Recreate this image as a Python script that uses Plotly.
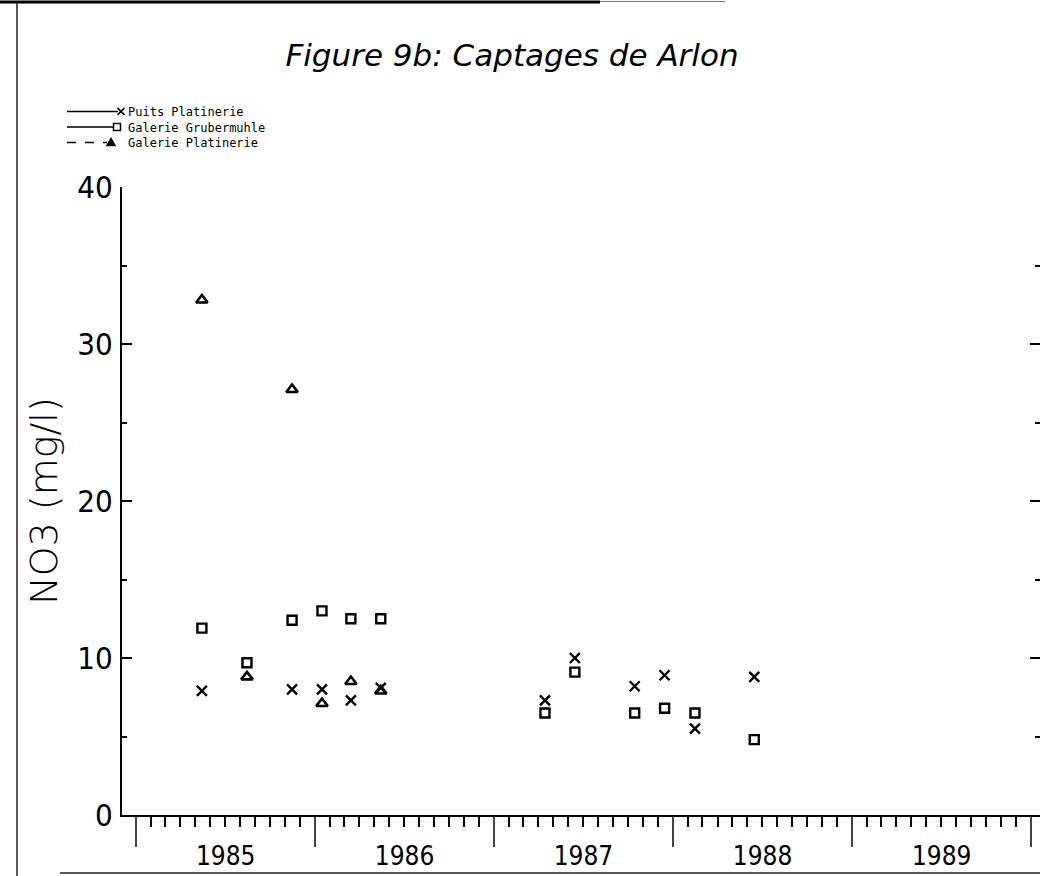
import plotly.graph_objects as go

# ---------------- data ----------------
dates_puits = ["1985-05-15", "1985-11-15", "1986-01-15", "1986-03-15", "1986-05-15",
               "1987-04-15", "1987-06-15", "1987-10-15", "1987-12-15", "1988-02-15", "1988-06-15"]
no3_puits = [7.9, 8.0, 8.0, 7.3, 8.1, 7.3, 10.0, 8.2, 8.9, 5.5, 8.8]

dates_grub = ["1985-05-15", "1985-08-15", "1985-11-15", "1986-01-15", "1986-03-15", "1986-05-15",
              "1987-04-15", "1987-06-15", "1987-10-15", "1987-12-15", "1988-02-15", "1988-06-15"]
no3_grub = [11.9, 9.7, 12.4, 13.0, 12.5, 12.5, 6.5, 9.1, 6.5, 6.8, 6.5, 4.8]

dates_gal = ["1985-05-15", "1985-08-15", "1985-11-15", "1986-01-15", "1986-03-15", "1986-05-15"]
no3_gal = [32.8, 8.8, 27.1, 7.1, 8.5, 7.9]

series_names = ["Puits Platinerie", "Galerie Grubermuhle", "Galerie Platinerie"]
title_text = "Figure 9b: Captages de Arlon"
y_title = "NO3 (mg/l)"

# ---------------- layout geometry ----------------
W, H = 1040, 876
L, R, T, B = 122, 0, 187, 61
PW = W - L - R
PH = H - T - B
PBOT = H - B


def px(x):
    return (x - L) / PW


def py(y):
    return (PBOT - y) / PH


NARROW = "Liberation Sans Narrow, DejaVu Sans Condensed, Roboto Condensed, Liberation Sans, sans-serif"

fig = go.Figure()
fig.add_trace(go.Scatter(x=dates_puits, y=no3_puits, mode="markers", name=series_names[0],
                         marker=dict(symbol="x-thin", size=10, color="black",
                                     line=dict(width=2.4, color="black"))))
fig.add_trace(go.Scatter(x=dates_grub, y=no3_grub, mode="markers", name=series_names[1],
                         marker=dict(symbol="square-open", size=9, color="black",
                                     line=dict(width=2.4, color="black"))))
fig.add_trace(go.Scatter(x=dates_gal, y=no3_gal, mode="markers", name=series_names[2],
                         marker=dict(symbol="triangle-up-open", size=10, color="black",
                                     line=dict(width=2.6, color="black"))))

shapes = []
# scan frame lines
shapes.append(dict(type="line", xref="paper", yref="paper", x0=px(0), x1=px(600), y0=py(2), y1=py(2),
                   line=dict(color="black", width=3)))
shapes.append(dict(type="line", xref="paper", yref="paper", x0=px(600), x1=px(725), y0=py(1.5), y1=py(1.5),
                   line=dict(color="#777", width=1)))
shapes.append(dict(type="line", xref="paper", yref="paper", x0=px(17), x1=px(17), y0=py(3), y1=py(876),
                   line=dict(color="#222", width=1.5)))
shapes.append(dict(type="line", xref="paper", yref="paper", x0=px(60), x1=px(1040), y0=py(873), y1=py(873),
                   line=dict(color="#222", width=1.5)))

# hand-drawn legend (one multi-line text block, samples drawn as shapes)
LEG_SIZE = 12
LEG_STEP = 1.3 * LEG_SIZE
rows = [127 - LEG_STEP, 127, 127 + LEG_STEP]
line_ends = [118, 113, 107]
dashes = ["solid", "solid", "dash"]
for yy, xe, ds in zip(rows, line_ends, dashes):
    shapes.append(dict(type="line", xref="paper", yref="paper", x0=px(67), x1=px(xe), y0=py(yy), y1=py(yy),
                       line=dict(color="black", width=1.5, dash=ds)))
# x glyph
cx, cy, s = 121, rows[0], 3.5
shapes.append(dict(type="line", xref="paper", yref="paper", x0=px(cx - s), x1=px(cx + s),
                   y0=py(cy - s), y1=py(cy + s), line=dict(color="black", width=1.5)))
shapes.append(dict(type="line", xref="paper", yref="paper", x0=px(cx - s), x1=px(cx + s),
                   y0=py(cy + s), y1=py(cy - s), line=dict(color="black", width=1.5)))
# square glyph
cx, cy = 117, rows[1]
shapes.append(dict(type="rect", xref="paper", yref="paper", x0=px(cx - 3.5), x1=px(cx + 3.5),
                   y0=py(cy + 3.5), y1=py(cy - 3.5), line=dict(color="black", width=1.5)))
# triangle glyph
cx, cy = 111, rows[2]
tri = "M {:.5f},{:.5f} L {:.5f},{:.5f} L {:.5f},{:.5f} Z".format(
    px(cx - 4), py(cy + 3), px(cx + 4), py(cy + 3), px(cx), py(cy - 4))
shapes.append(dict(type="path", xref="paper", yref="paper", path=tri,
                   line=dict(color="black", width=1.5), fillcolor="black"))

annotations = [dict(xref="paper", yref="paper", x=px(127), y=py(127), xanchor="left", yanchor="middle",
                    align="left", text="<br>".join(series_names), showarrow=False, borderpad=0,
                    font=dict(family="DejaVu Sans Mono, Liberation Mono, monospace", size=LEG_SIZE,
                              color="black"))]

fig.update_layout(
    width=W, height=H,
    margin=dict(l=L, r=R, t=T, b=B, pad=0),
    paper_bgcolor="white", plot_bgcolor="white",
    showlegend=False,
    title=dict(text=title_text, x=512 / W, xref="container", xanchor="center",
               y=1 - 55 / H, yref="container", yanchor="middle",
               font=dict(family="DejaVu Sans", size=31, style="italic", weight=200, color="black")),
    shapes=shapes,
    annotations=annotations,
    xaxis=dict(type="date", range=["1984-12-03", "1990-01-19"],
               tick0="1985-01-01", dtick="M12", ticklabelmode="period", tickformat="%Y",
               ticks="outside", ticklen=30, tickwidth=1.5, tickcolor="#444",
               showline=True, linecolor="black", linewidth=2,
               showgrid=False, zeroline=False, automargin=False,
               ticklabelstandoff=-13,
               tickfont=dict(family=NARROW, size=26, color="black"),
               minor=dict(dtick="M1", ticks="outside", ticklen=10, tickwidth=1.5, tickcolor="black",
                          showgrid=False)),
    yaxis=dict(range=[0, 40], tick0=0, dtick=10,
               ticks="inside", ticklen=10, tickwidth=2, tickcolor="black",
               showline=True, linecolor="black", linewidth=2, mirror="ticks",
               showgrid=False, zeroline=False, automargin=False,
               ticklabelstandoff=1,
               tickfont=dict(family=NARROW, size=31, color="black"),
               minor=dict(dtick=5, ticks="inside", ticklen=5, tickwidth=2, tickcolor="black",
                          showgrid=False),
               title=dict(text=y_title, standoff=8,
                          font=dict(family="DejaVu Sans", size=38, weight=200, color="black"))),
)

fig.write_html("out.html")
